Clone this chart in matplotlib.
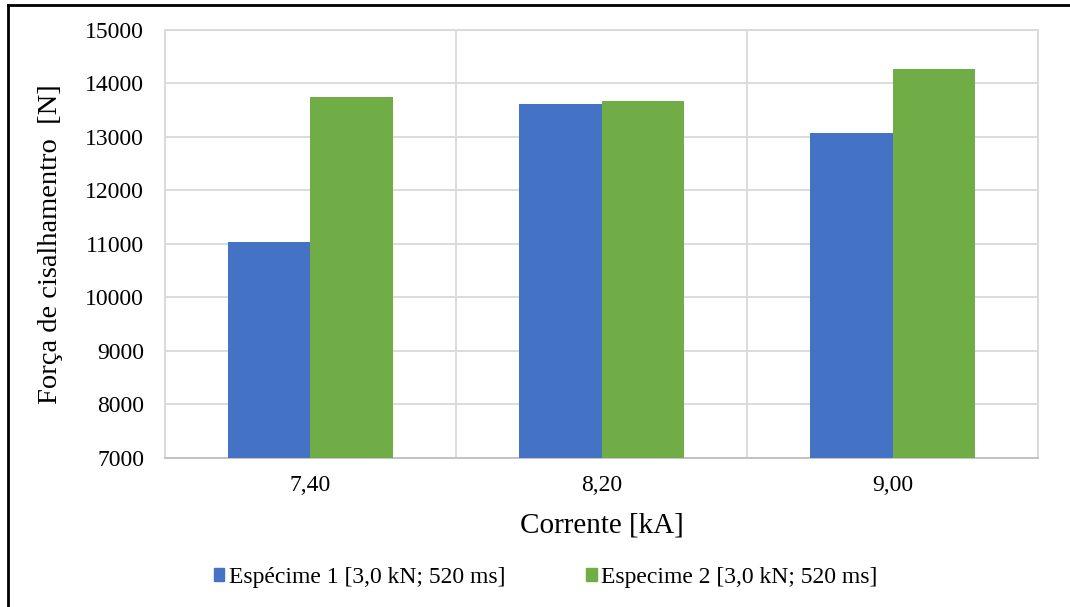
import numpy as np
import matplotlib.pyplot as plt
from matplotlib.lines import Line2D

plt.rcParams['font.family'] = ['Liberation Serif', 'DejaVu Serif']

# shear force per welding current, two specimens
correntes = ['7,40', '8,20', '9,00']
especime_1 = [11030, 13610, 13080]
especime_2 = [13750, 13680, 14280]
series_labels = ['Espécime 1 [3,0 kN; 520 ms]', 'Especime 2 [3,0 kN; 520 ms]']
y_ticks = [7000, 8000, 9000, 10000, 11000, 12000, 13000, 14000, 15000]

blue = '#4472C4'
green = '#70AD47'
grid_c = '#D9D9D9'

fig = plt.figure(figsize=(10.70, 6.07), dpi=100)
ax = fig.add_axes([0.1542, 0.2455, 0.9701 - 0.1542, 0.9506 - 0.2455])

x = np.arange(len(correntes))
w = 0.282
ax.bar(x - w / 2, especime_1, w, color=blue, label=series_labels[0], zorder=3)
ax.bar(x + w / 2, especime_2, w, color=green, label=series_labels[1], zorder=3)

ax.set_xlim(-0.5, len(correntes) - 0.5)
ax.set_ylim(y_ticks[0], y_ticks[-1])
ax.set_yticks(y_ticks)
ax.set_xticks(x)
ax.set_xticklabels(correntes)

# gridlines: horizontal at each tick, vertical between categories
ax.set_xticks(np.arange(len(correntes) + 1) - 0.5, minor=True)
ax.yaxis.grid(True, color=grid_c, linewidth=1.3, zorder=0)
ax.xaxis.grid(True, which='minor', color=grid_c, linewidth=1.3, zorder=0)
ax.tick_params(axis='both', which='both', length=0, labelsize=17)
ax.tick_params(axis='x', pad=12)
ax.tick_params(axis='y', pad=15)

for s in ax.spines.values():
    s.set_color(grid_c)
    s.set_linewidth(1.3)
ax.spines['bottom'].set_color('#BFBFBF')

ax.set_xlabel('Corrente [kA]', fontsize=21, labelpad=12)
ax.set_ylabel('Força de cisalhamentro  [N]', fontsize=20.5, labelpad=16)

handles = [plt.Rectangle((0, 0), 1, 1, color=blue), plt.Rectangle((0, 0), 1, 1, color=green)]
fig.legend(handles, series_labels, loc='center', bbox_to_anchor=(0.51, 0.049), ncol=2,
           frameon=False, fontsize=17, handlelength=0.45, handleheight=0.5,
           handletextpad=0.2, columnspacing=3.4)

# outer frame (top and left edges)
fig.add_artist(Line2D([0.0075, 1.0], [0.992, 0.992], transform=fig.transFigure, color='black', linewidth=2))
fig.add_artist(Line2D([0.0075, 0.0075], [0.0, 0.992], transform=fig.transFigure, color='black', linewidth=2))

fig.savefig('out.png', dpi=100)
